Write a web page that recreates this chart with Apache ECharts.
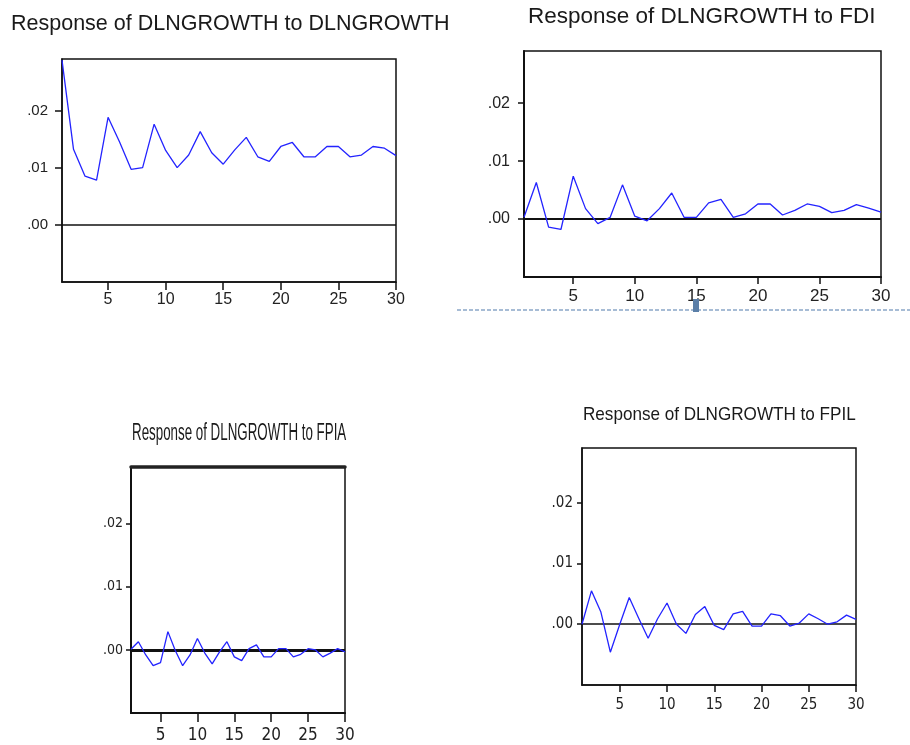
<!DOCTYPE html>
<html>
<head>
<meta charset="utf-8">
<script src="https://cdn.jsdelivr.net/npm/echarts@6/dist/echarts.min.js"></script>
<style>
html,body{margin:0;padding:0;background:#fff;}
#chart{width:910px;height:745px;}
</style>
</head>
<body>
<div id="chart"></div>
<script>
// ---- data ----
var periods = [];
for (var i = 1; i <= 30; i++) periods.push(i);
var xTickLabels = [5, 10, 15, 20, 25, 30];
var yTickLabels = [0, 0.01, 0.02];

var titles = [
  'Response of DLNGROWTH to DLNGROWTH',
  'Response of DLNGROWTH to FDI',
  'Response of DLNGROWTH to FPIA',
  'Response of DLNGROWTH to FPIL'
];

var toDLNGROWTH = [0.0288, 0.0132, 0.0085, 0.0078, 0.0188, 0.0145, 0.0097, 0.0100, 0.0176, 0.0130,
                   0.0100, 0.0122, 0.0163, 0.0126, 0.0106, 0.0131, 0.0153, 0.0119, 0.0111, 0.0137,
                   0.0144, 0.0119, 0.0119, 0.0137, 0.0137, 0.0119, 0.0122, 0.0137, 0.0134, 0.0121];
var toFDI = [0.0003, 0.0063, -0.0014, -0.0018, 0.0074, 0.0018, -0.0008, 0.0003, 0.0059, 0.0005,
             -0.0003, 0.0018, 0.0045, 0.0003, 0.0003, 0.0028, 0.0034, 0.0003, 0.0009, 0.0026,
             0.0026, 0.0007, 0.0015, 0.0026, 0.0022, 0.0011, 0.0015, 0.0025, 0.0019, 0.0012];
var toFPIA = [0.0001, 0.0013, -0.0008, -0.0025, -0.0020, 0.0029, -0.0001, -0.0025, -0.0008, 0.0018,
              -0.0005, -0.0022, -0.0003, 0.0013, -0.0011, -0.0017, 0.0002, 0.0008, -0.0011, -0.0011,
              0.0002, 0.0002, -0.0011, -0.0007, 0.0002, 0.0000, -0.0011, -0.0005, 0.0002, -0.0003];
var toFPIL = [0.0000, 0.0055, 0.0020, -0.0046, 0.0000, 0.0044, 0.0010, -0.0023, 0.0009, 0.0035,
              0.0000, -0.0015, 0.0016, 0.0029, -0.0002, -0.0009, 0.0017, 0.0021, -0.0003, -0.0003,
              0.0017, 0.0014, -0.0003, 0.0002, 0.0017, 0.0009, 0.0000, 0.0004, 0.0015, 0.0008];

var seriesData = [toDLNGROWTH, toFDI, toFPIA, toFPIL];

// ---- layout / style ----
var grids = [
  {left: 62, top: 59, width: 334, height: 223},
  {left: 524, top: 51, width: 357, height: 226},
  {left: 131, top: 467, width: 214, height: 246},
  {left: 582, top: 448, width: 274, height: 237}
];
var panelStyle = [
  {font: 'Liberation Sans, Arial, sans-serif', ySize: 15, xSize: 16, yMargin: 14, xMargin: 10, yTick: 7, xTick: 8, zeroW: 1.5, boxW: 1.5},
  {font: 'Liberation Sans, Arial, sans-serif', ySize: 16, xSize: 17, yMargin: 14, xMargin: 11, yTick: 6, xTick: 7, zeroW: 2, boxW: 2},
  {font: "'Liberation Sans Narrow', 'DejaVu Sans Condensed', sans-serif", ySize: 14, xSize: 17, yMargin: 8, xMargin: 14, yTick: 5, xTick: 9, zeroW: 3, boxW: 2},
  {font: "'Liberation Sans Narrow', 'DejaVu Sans Condensed', sans-serif", ySize: 15, xSize: 15, yMargin: 9, xMargin: 13, yTick: 5, xTick: 7, zeroW: 1.5, boxW: 1.5}
];

function yFmt(v) {
  if (v < -1e-9) return '';
  return '.' + v.toFixed(2).split('.')[1];
}

var option = {
  backgroundColor: '#fff',
  animation: false,
  grid: grids.map(function (g) {
    return {left: g.left, top: g.top, width: g.width, height: g.height, show: true,
            borderColor: '#111', borderWidth: 1.5, backgroundColor: 'transparent', containLabel: false};
  }),
  xAxis: [],
  yAxis: [],
  series: [],
  graphic: []
};

for (var k = 0; k < 4; k++) {
  var ps = panelStyle[k];
  option.xAxis.push({
    type: 'value', gridIndex: k, min: 1, max: 30,
    axisLine: {show: true, onZero: false, lineStyle: {color: '#111', width: ps.boxW}},
    axisTick: {show: true, inside: false, length: ps.xTick, customValues: xTickLabels, lineStyle: {color: '#111', width: 1.5}},
    axisLabel: {show: true, customValues: xTickLabels, margin: ps.xMargin, color: '#222',
                fontFamily: ps.font, fontSize: ps.xSize},
    splitLine: {show: false}
  });
  option.yAxis.push({
    type: 'value', gridIndex: k, min: -0.01, max: 0.029,
    axisLine: {show: true, lineStyle: {color: '#111', width: ps.boxW}},
    axisTick: {show: true, inside: false, length: ps.yTick, customValues: yTickLabels, lineStyle: {color: '#111', width: 1.5}},
    axisLabel: {show: true, customValues: yTickLabels, formatter: yFmt, margin: ps.yMargin, color: '#222',
                fontFamily: ps.font, fontSize: ps.ySize},
    splitLine: {show: false}
  });
  option.series.push({
    type: 'line', xAxisIndex: k, yAxisIndex: k,
    data: periods.map(function (p, i) { return [p, seriesData[k][i]]; }),
    showSymbol: false, symbol: 'none', silent: true,
    lineStyle: {color: '#2323ff', width: 1.3},
    z: 3,
    markLine: {
      silent: true, symbol: 'none', label: {show: false},
      lineStyle: {color: '#111', width: ps.zeroW, type: 'solid'},
      data: [{yAxis: 0}],
      z: 2
    }
  });
}

// thick top border on FPIA panel
option.xAxis.push({
  type: 'value', gridIndex: 2, min: 1, max: 30, position: 'top',
  axisLine: {show: true, onZero: false, lineStyle: {color: '#222', width: 3.5}},
  axisTick: {show: false}, axisLabel: {show: false}, splitLine: {show: false}
});

// titles
option.graphic.push(
  {type: 'text', x: 11, y: 24, style: {text: titles[0], font: '21.5px Liberation Sans, Arial, sans-serif', fill: '#1a1a1a', textVerticalAlign: 'middle'}},
  {type: 'text', x: 528, y: 17, style: {text: titles[1], font: '22.5px Liberation Sans, Arial, sans-serif', fill: '#1a1a1a', textVerticalAlign: 'middle'}},
  {type: 'text', x: 132, y: 434, scaleX: 0.58, originX: 0, originY: 0,
   style: {text: titles[2], font: '23px Liberation Sans, Arial, sans-serif', fill: '#1a1a1a', textVerticalAlign: 'middle'}},
  {type: 'text', x: 583, y: 415, scaleX: 0.9, originX: 0, originY: 0,
   style: {text: titles[3], font: '19px Liberation Sans, Arial, sans-serif', fill: '#1a1a1a', textVerticalAlign: 'middle'}},
  // dashed separator under the FDI panel
  {type: 'line', shape: {x1: 457, y1: 310, x2: 910, y2: 310},
   style: {stroke: '#8aa6c8', lineWidth: 1.5, lineDash: [4, 2]}, z: 10},
  {type: 'rect', shape: {x: 693, y: 299, width: 6, height: 13},
   style: {fill: '#5b7fa8'}, z: 11}
);

var chart = echarts.init(document.getElementById('chart'), null, {renderer: 'canvas'});
chart.setOption(option);
</script>
</body>
</html>
